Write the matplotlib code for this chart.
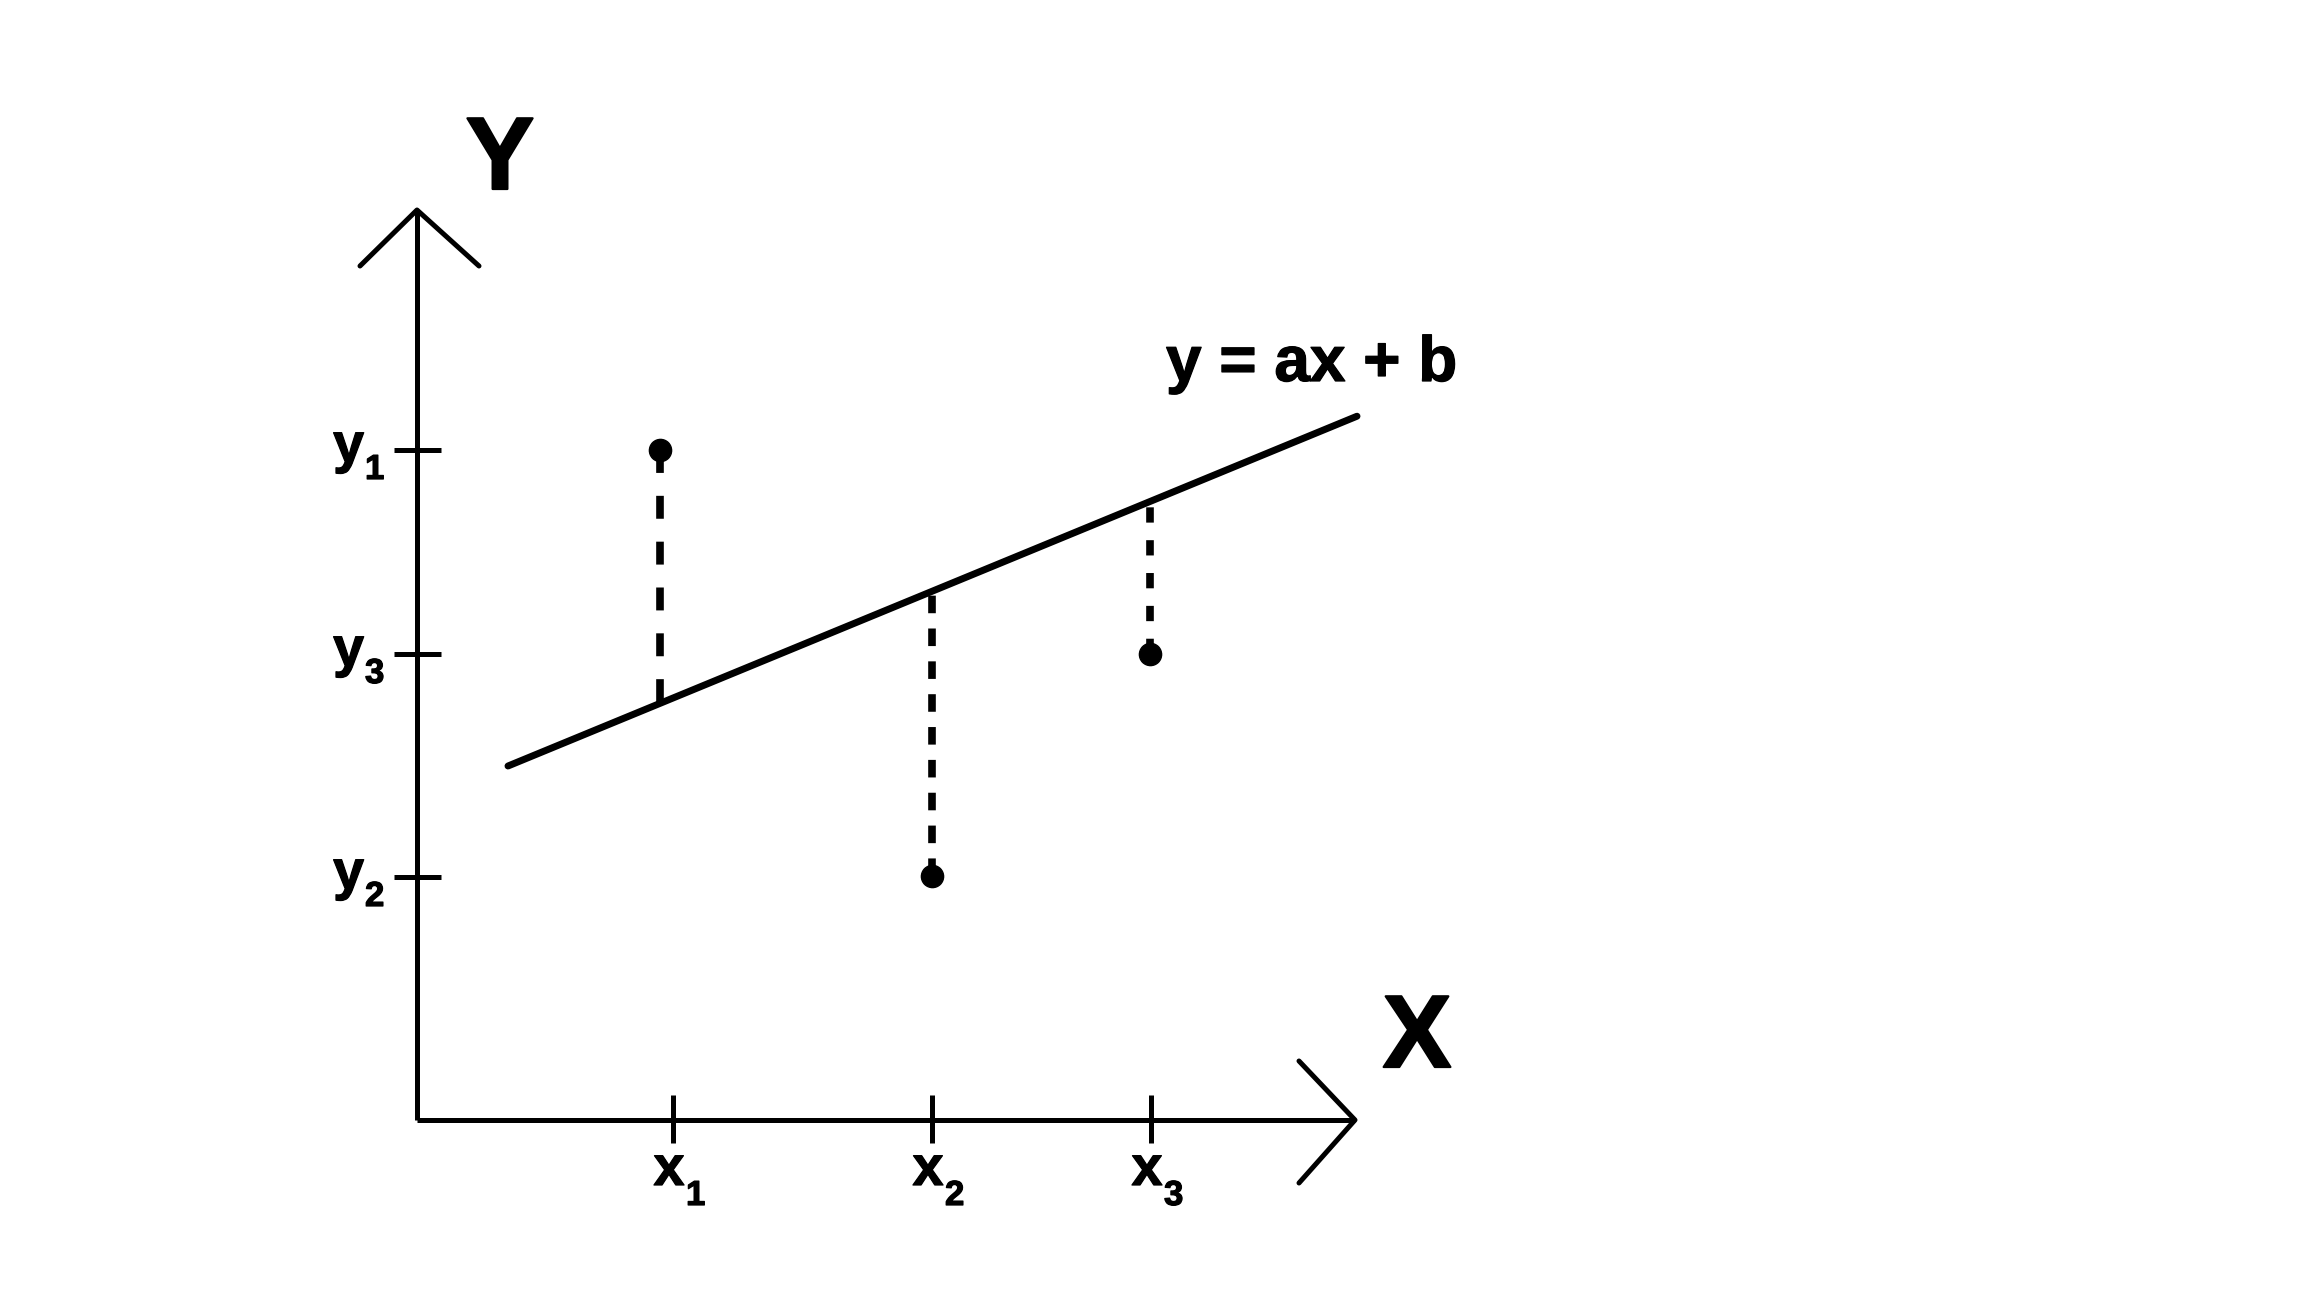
import numpy as np
import matplotlib
matplotlib.use("Agg")
import matplotlib.pyplot as plt
import matplotlib.patheffects as pe

plt.rcParams['font.family'] = ['Liberation Sans', 'DejaVu Sans']

# observed points (schematic units)
px = [2.43, 5.15, 7.33]
py = [6.70, 2.44, 4.66]
# tick positions on the axes
xticks = [2.56, 5.15, 7.34]
xtick_labels = ['1', '2', '3']
yticks = [6.70, 4.66, 2.43]
ytick_labels = ['1', '3', '2']
# fitted line y = a x + b
a = 0.412
b = 3.165
line_x = [0.91, 9.40]
# axis extents
xmax = 9.38
ymax = 9.10

fig = plt.figure(figsize=(23.04, 12.96), dpi=100)
ax = fig.add_axes([0, 0, 1, 1])
ax.set_xlim(-4.17, 18.87)
ax.set_ylim(-1.76, 11.20)
ax.axis('off')

heavy = [pe.withStroke(linewidth=1.6, foreground='black')]
light = [pe.withStroke(linewidth=0.9, foreground='black')]

lw_axis = 3.6
# axes
ax.plot([0, xmax], [0, 0], color='black', lw=lw_axis, solid_capstyle='butt')
ax.plot([0, 0], [0, ymax], color='black', lw=lw_axis, solid_capstyle='butt')
# open arrow heads
ax.plot([-0.57, 0, 0.62], [ymax - 0.56, ymax, ymax - 0.56], color='black', lw=lw_axis, solid_capstyle='round')
ax.plot([xmax - 0.56, xmax, xmax - 0.56], [0.59, 0, -0.63], color='black', lw=lw_axis, solid_capstyle='round')

# ticks
for t in xticks:
    ax.plot([t, t], [0.25, -0.23], color='black', lw=lw_axis, solid_capstyle='butt')
for t in yticks:
    ax.plot([-0.23, 0.24], [t, t], color='black', lw=lw_axis, solid_capstyle='butt')

# regression line
lx = np.array(line_x)
ax.plot(lx, a * lx + b, color='black', lw=5.0, solid_capstyle='round')

# residuals
dash_styles = [(3.0, 3.0), (2.3, 2.0), (2.0, 2.3)]
for x, y, ds in zip(px, py, dash_styles):
    ax.plot([x, x], [y, a * x + b], color='black', lw=5.5, dashes=ds)
ax.plot(px, py, 'o', color='black', markersize=16)

# tick labels
for t, s in zip(xticks, xtick_labels):
    ax.text(t - 0.04, -0.65, 'x', fontsize=40, fontweight='bold', ha='center', va='baseline', path_effects=light)
    ax.text(t + 0.13, -0.85, s, fontsize=25, fontweight='bold', ha='left', va='baseline', path_effects=light)
for t, s in zip(yticks, ytick_labels):
    ax.text(-0.53, t - 0.12, 'y', fontsize=40, fontweight='bold', ha='right', va='baseline', path_effects=light)
    ax.text(-0.52, t - 0.29, s, fontsize=25, fontweight='bold', ha='left', va='baseline', path_effects=light)

# axis names
ax.text(0.83, 9.31, 'Y', fontsize=74, fontweight='bold', ha='center', va='baseline', path_effects=heavy)
ax.text(10.0, 0.53, 'X', fontsize=74, fontweight='bold', ha='center', va='baseline', path_effects=heavy)
ax.text(7.49, 7.39, 'y = ax + b', fontsize=46, fontweight='bold', ha='left', va='baseline', path_effects=light)

fig.savefig('out.png', dpi=100, facecolor='white')
